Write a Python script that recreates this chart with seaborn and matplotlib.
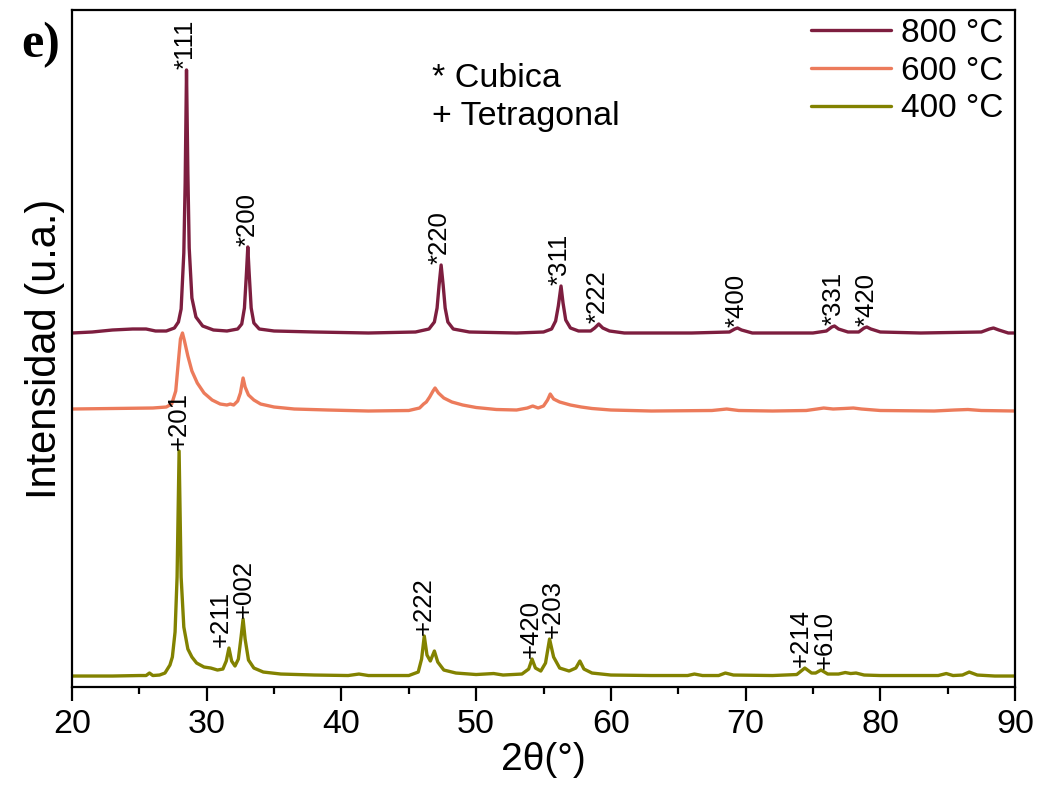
import matplotlib
matplotlib.use('Agg')
import numpy as np
import pandas as pd
import matplotlib.pyplot as plt
import seaborn as sns

# XRD patterns: (2theta, intensity above own baseline), a.u.
xrd_800 = [(20.0, 0), (21.5, 1), (23.0, 3), (24.5, 4), (25.5, 4), (26.2, 2), (27.0, 2),
           (27.6, 5), (27.9, 11), (28.1, 24), (28.3, 80), (28.4, 150), (28.5, 263),
           (28.6, 160), (28.7, 85), (28.9, 35), (29.2, 16), (29.7, 7), (30.5, 3),
           (31.5, 2), (32.3, 4), (32.6, 9), (32.8, 25), (32.95, 60), (33.05, 86),
           (33.15, 60), (33.3, 25), (33.5, 10), (33.9, 4), (35.0, 2), (38.0, 1),
           (42.0, 0), (45.5, 1), (46.5, 4), (46.9, 11), (47.1, 25), (47.25, 48),
           (47.4, 68), (47.55, 48), (47.7, 25), (47.9, 11), (48.3, 4), (49.5, 1),
           (53.0, 0), (55.0, 1), (55.6, 4), (55.9, 12), (56.1, 27), (56.3, 47),
           (56.45, 30), (56.65, 13), (57.0, 5), (57.6, 2), (58.5, 2), (58.8, 5),
           (59.1, 9), (59.4, 5), (59.9, 2), (61.0, 0), (66.0, 0), (68.8, 1), (69.2, 4),
           (69.4, 5), (69.7, 3), (70.5, 0), (75.0, 0), (76.0, 2), (76.4, 6), (76.6, 7),
           (76.9, 4), (77.6, 1), (78.4, 1), (78.8, 5), (79.0, 6), (79.3, 4), (80.0, 1),
           (83.0, 0), (87.5, 1), (88.1, 4), (88.4, 5), (88.8, 3), (89.5, 0), (90.0, 0)]

xrd_600 = [(20.0, 2), (23.0, 2.5), (26.0, 3), (27.0, 4), (27.4, 7), (27.7, 20), (27.9, 50),
           (28.05, 72), (28.2, 78), (28.35, 70), (28.6, 55), (28.9, 40), (29.3, 28),
           (29.8, 18), (30.4, 11), (31.0, 7), (31.5, 6), (31.75, 7), (32.0, 6), (32.3, 10),
           (32.5, 18), (32.7, 33), (32.85, 24), (33.1, 16), (33.5, 11), (34.0, 7),
           (35.0, 4), (36.5, 2), (39.0, 1), (42.0, 0), (45.0, 0.5), (45.8, 3), (46.1, 7),
           (46.3, 9), (46.55, 14), (46.8, 20), (46.95, 23), (47.2, 18), (47.6, 13),
           (48.2, 9), (49.0, 6), (50.0, 3.5), (51.5, 1.5), (53.0, 1), (53.8, 3), (54.2, 5),
           (54.6, 3), (55.0, 5), (55.3, 11), (55.5, 17), (55.75, 12), (56.2, 9), (57.0, 6),
           (57.8, 4), (58.6, 2.5), (60.0, 1), (63.0, 0), (67.5, 0.5), (68.6, 2),
           (69.5, 0.5), (72.0, 0), (74.5, 0.5), (75.3, 2), (75.8, 3), (76.5, 2),
           (77.3, 2.5), (78.0, 3), (78.6, 2), (80.0, 0.5), (84.0, 0), (85.5, 1),
           (86.5, 1.5), (87.5, 0.5), (90.0, 0)]

xrd_400 = [(20.0, 1), (23.0, 1), (25.0, 1.5), (25.5, 1.5), (25.75, 4), (26.0, 1.5),
           (26.5, 2), (26.9, 4), (27.27, 12), (27.45, 20), (27.65, 45), (27.8, 100),
           (27.95, 226), (28.1, 100), (28.3, 50), (28.6, 28), (28.9, 20), (29.25, 14),
           (29.8, 10), (30.3, 9), (30.8, 7), (31.2, 8), (31.45, 16), (31.65, 29),
           (31.85, 16), (32.1, 11), (32.35, 18), (32.55, 40), (32.7, 58), (32.85, 38),
           (33.1, 17), (33.5, 9), (34.2, 5), (35.5, 3), (38.0, 2), (40.5, 1.5), (41.3, 3),
           (42.0, 1.5), (45.0, 1.5), (45.7, 5), (45.95, 18), (46.15, 41), (46.35, 22),
           (46.6, 16), (46.9, 26), (47.15, 15), (47.6, 7), (48.5, 4), (50.0, 2.5),
           (51.3, 3.5), (52.0, 2), (53.4, 3), (53.9, 8), (54.15, 18), (54.4, 9), (54.8, 6),
           (55.15, 14), (55.45, 38), (55.75, 20), (56.2, 9), (56.9, 6), (57.4, 9),
           (57.7, 16), (58.0, 8), (58.6, 4), (60.0, 2), (63.0, 1.5), (65.7, 1.5),
           (66.2, 3), (66.8, 1.5), (68.0, 1.5), (68.5, 4), (69.1, 2), (72.0, 1.5),
           (73.8, 2.5), (74.4, 9), (74.9, 4), (75.2, 4), (75.6, 7), (76.1, 3), (76.9, 3),
           (77.4, 4.5), (77.8, 3.5), (78.2, 4), (78.8, 2), (80.0, 1.5), (84.3, 1.5),
           (84.9, 3.5), (85.4, 1.5), (86.1, 2), (86.6, 5), (87.2, 2), (88.5, 1), (90.0, 1)]

# vertical offsets used to stack the patterns
offsets = {'800 °C': 354, '600 °C': 276, '400 °C': 10}

# peak indexing: label, peak position, where the label sits
labels_800 = ['*111', '*200', '*220', '*311', '*222', '*400', '*331', '*420']
pos_800 = [28.5, 33.05, 47.4, 56.3, 59.1, 69.4, 76.6, 79.0]
txt_800 = [28.4, 33.0, 47.3, 56.2, 59.0, 69.3, 76.5, 79.0]
labels_400 = ['+201', '+211', '+002', '+222', '+420', '+203', '+214', '+610']
pos_400 = [27.95, 31.65, 32.7, 46.15, 54.15, 55.45, 74.4, 75.6]
txt_400 = [27.9, 31.05, 32.75, 46.1, 54.05, 55.7, 74.1, 75.9]

colors = {'800 °C': '#7d1e3f', '600 °C': '#ec7b5b', '400 °C': '#828200'}

frames = []
for name, pts in [('800 °C', xrd_800), ('600 °C', xrd_600), ('400 °C', xrd_400)]:
    d = pd.DataFrame(pts, columns=['tth', 'I'])
    d['I'] = d['I'] + offsets[name]
    d['T'] = name
    frames.append(d)
df = pd.concat(frames, ignore_index=True)

sns.set_theme(style='white')
plt.rcParams['font.family'] = ['Liberation Sans', 'DejaVu Sans']
plt.rcParams.update({'text.color': 'black', 'axes.labelcolor': 'black',
                     'xtick.color': 'black', 'ytick.color': 'black'})

fig = plt.figure(figsize=(10.39, 7.85), dpi=100)
ax = fig.add_axes([0.0693, 0.1248, 0.9076, 0.8625])

sns.lineplot(data=df, x='tth', y='I', hue='T', hue_order=list(colors),
             palette=colors, estimator=None, sort=False, lw=2.4, ax=ax)

ax.set_xlim(20, 90)
ax.set_ylim(0, 677)
ax.set_yticks([])
ax.set_xticks(range(20, 91, 10))
ax.set_xticks(range(25, 90, 10), minor=True)
ax.tick_params(axis='x', which='major', direction='out', length=10, width=1.6,
               labelsize=24.5, pad=6, bottom=True)
ax.tick_params(axis='x', which='minor', direction='out', length=5, width=1.6, bottom=True)
for s in ax.spines.values():
    s.set_linewidth(1.6)
    s.set_color('black')

ax.set_xlabel('2θ(°)', fontsize=28, labelpad=1)
ax.set_ylabel('Intensidad (u.a.)', fontsize=30, labelpad=5)


def peak_labels(pts, off, labels, pos, txt):
    arr = np.array(pts)
    for lab, p, tx in zip(labels, pos, txt):
        near = arr[np.abs(arr[:, 0] - p) < 0.2, 1]
        ax.text(tx, near.max() + off + 1, lab, rotation=90, ha='center', va='bottom',
                fontsize=18.5)


peak_labels(xrd_800, offsets['800 °C'], labels_800, pos_800, txt_800)
peak_labels(xrd_400, offsets['400 °C'], labels_400, pos_400, txt_400)

ax.text(0.382, 0.8995, '* Cubica', transform=ax.transAxes, fontsize=24.5, va='center')
ax.text(0.382, 0.843, '+ Tetragonal', transform=ax.transAxes, fontsize=24.5, va='center')

handles, labs = ax.get_legend_handles_labels()
ax.legend(handles, labs, loc='upper right', bbox_to_anchor=(1.002, 1.008), frameon=False,
          fontsize=24, handlelength=2.4, handletextpad=0.3, labelspacing=0.2,
          borderaxespad=0)

fig.text(0.02, 0.943, 'e)', fontsize=36, fontweight='bold', family='Liberation Serif',
         va='center')

fig.savefig('out.png', dpi=100)
